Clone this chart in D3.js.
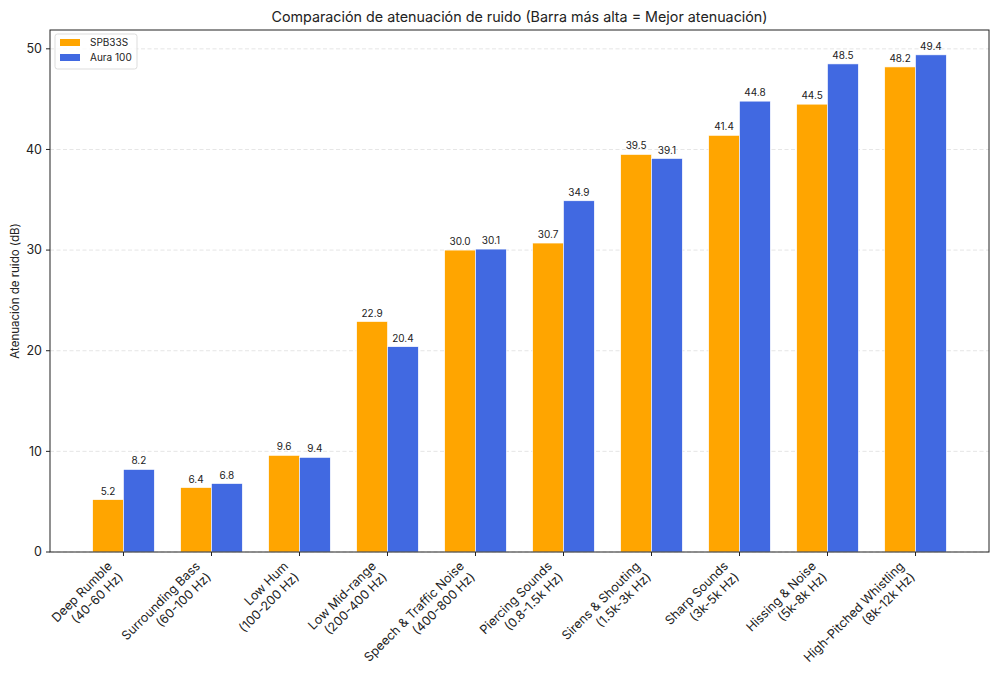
<!DOCTYPE html>
<html><head><meta charset="utf-8">
<script src="https://cdn.jsdelivr.net/npm/d3@7"></script>
<style>body{margin:0;background:#fff;} text{font-family:Inter, "Open Sans", sans-serif;fill:#222;}</style>
</head><body>
<svg id="c" width="1000" height="692"></svg>
<script>
const categories = [
  ["Deep Rumble","(40-60 Hz)"],
  ["Surrounding Bass","(60-100 Hz)"],
  ["Low Hum","(100-200 Hz)"],
  ["Low Mid-range","(200-400 Hz)"],
  ["Speech & Traffic Noise","(400-800 Hz)"],
  ["Piercing Sounds","(0.8-1.5k Hz)"],
  ["Sirens & Shouting","(1.5k-3k Hz)"],
  ["Sharp Sounds","(3k-5k Hz)"],
  ["Hissing & Noise","(5k-8k Hz)"],
  ["High-Pitched Whistling","(8k-12k Hz)"]
];
const seriesNames = ["SPB33S","Aura 100"];
const spb33s = [5.2, 6.4, 9.6, 22.9, 30.0, 30.7, 39.5, 41.4, 44.5, 48.2];
const aura100 = [8.2, 6.8, 9.4, 20.4, 30.1, 34.9, 39.1, 44.8, 48.5, 49.4];
const yTicks = [0, 10, 20, 30, 40, 50];
const colors = ["#FFA500", "#4169E1"];
const title = "Comparación de atenuación de ruido (Barra más alta = Mejor atenuación)";
const yLabel = "Atenuación de ruido (dB)";

const svg = d3.select("#c");
const L = 50, R = 989, T = 30, B = 552;
const bw = 0.35;
const n = categories.length;
const x = d3.scaleLinear().domain([-0.835, n - 1 + 0.835]).range([L, R]);
const yMax = d3.max(spb33s.concat(aura100)) * 1.05;
const y = d3.scaleLinear().domain([0, yMax]).range([B, T]);

// grid
svg.append("g").selectAll("line").data(yTicks).join("line")
  .attr("x1", L).attr("x2", R).attr("y1", d => y(d)).attr("y2", d => y(d))
  .attr("stroke", "#d8d8d8").attr("stroke-width", 0.8).attr("stroke-dasharray", "4,2.5").attr("opacity", 0.8);

const series = [spb33s, aura100];
series.forEach((vals, si) => {
  const off = si === 0 ? -bw / 2 : bw / 2;
  const g = svg.append("g");
  g.selectAll("rect").data(vals).join("rect")
    .attr("x", (d, i) => x(i + off - bw / 2))
    .attr("width", x(bw) - x(0))
    .attr("y", d => y(d))
    .attr("height", d => B - y(d))
    .attr("fill", colors[si])
    .attr("stroke", "#fff").attr("stroke-width", 0.6);
  g.selectAll("text").data(vals).join("text")
    .attr("x", (d, i) => x(i + off))
    .attr("y", d => y(d) - 5)
    .attr("text-anchor", "middle")
    .attr("font-size", 10)
    .text(d => d.toFixed(1));
});

// axes frame
svg.append("rect").attr("x", L).attr("y", T).attr("width", R - L).attr("height", B - T)
  .attr("fill", "none").attr("stroke", "#222").attr("stroke-width", 1);

// y ticks
const yg = svg.append("g");
yTicks.forEach(t => {
  yg.append("line").attr("x1", L - 4).attr("x2", L).attr("y1", y(t)).attr("y2", y(t)).attr("stroke", "#222");
  yg.append("text").attr("x", L - 8).attr("y", y(t)).attr("dy", "0.35em").attr("text-anchor", "end")
    .attr("font-size", 12.5).text(t);
});

// x ticks and labels
const xg = svg.append("g");
const fs = 12.5;
const lh = fs * 1.22;
categories.forEach((c, i) => {
  const tx = x(i);
  xg.append("line").attr("x1", tx).attr("x2", tx).attr("y1", B).attr("y2", B + 4).attr("stroke", "#222");
  const H = c.length * lh;
  const g = xg.append("g").attr("transform", `translate(${tx - H / Math.SQRT2 + 3},${B + 7}) rotate(-45)`);
  const t = g.append("text").attr("text-anchor", "end").attr("font-size", fs);
  c.forEach((line, k) => {
    t.append("tspan").attr("x", 0).attr("y", fs * 0.9 + k * lh).text(line);
  });
});

// title
svg.append("text").attr("x", (L + R) / 2).attr("y", 22).attr("text-anchor", "middle")
  .attr("font-size", 14.3).text(title);

// y label
svg.append("text").attr("transform", `translate(19,${(T + B) / 2}) rotate(-90)`)
  .attr("text-anchor", "middle").attr("font-size", 11.5).text(yLabel);

// legend
const lg = svg.append("g").attr("transform", `translate(${L + 5},${T + 4})`);
lg.append("rect").attr("width", 82).attr("height", 35).attr("rx", 2.5)
  .attr("fill", "#fff").attr("fill-opacity", 0.8).attr("stroke", "#ddd");
seriesNames.forEach((s, k) => {
  lg.append("rect").attr("x", 5).attr("y", 5 + k * 15).attr("width", 20).attr("height", 7).attr("fill", colors[k]);
  lg.append("text").attr("x", 35).attr("y", 8.5 + k * 15).attr("dy", "0.35em").attr("font-size", 10).text(s);
});
</script>
</body></html>
